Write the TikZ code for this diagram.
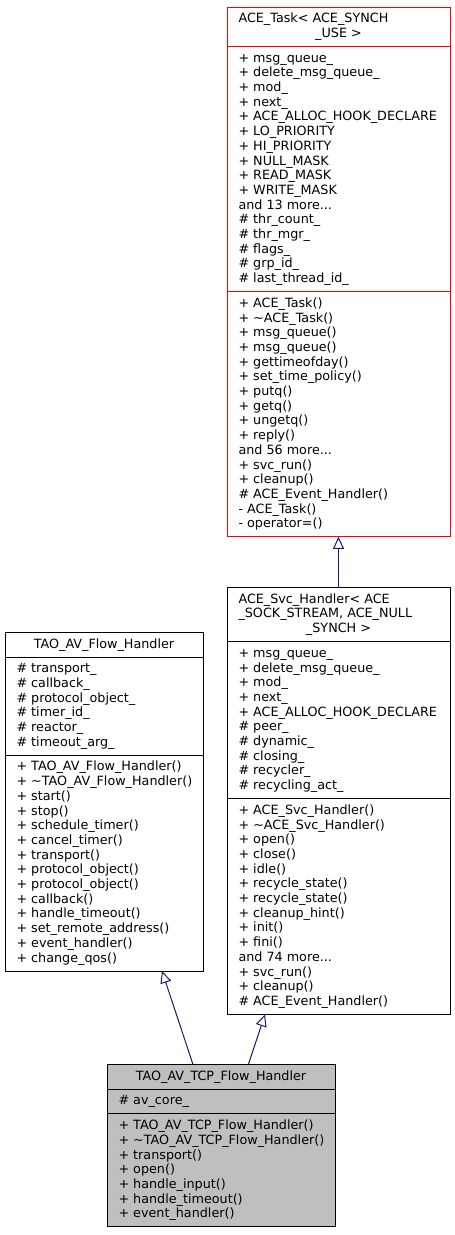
\documentclass[tikz,border=0pt]{standalone}
\usepackage{fontspec}
\setmainfont{DejaVu Sans}
\usetikzlibrary{arrows.meta}
\definecolor{edgeblue}{HTML}{191970}
\definecolor{nodegray}{HTML}{BFBFBF}
\newcommand\tdots{...}
\newcommand\memlist[4]{\foreach \mtxt [count=\mi from 0] in {#4} {\node[txt] (#3\mi) at (#1,{#2+14.7*\mi}) {\mtxt};}}
\begin{document}
\begin{tikzpicture}[x=1pt,y=-1pt,
  box/.style={draw=black, line width=1pt, fill=white, inner sep=0pt, outer sep=0pt, anchor=north west},
  divider/.style={line width=1pt},
  txt/.style={font=\fontsize{12.75}{14.7}\selectfont, inner sep=0pt, outer sep=0pt, anchor=base west},
  ttl/.style={txt, anchor=base},
  inherit/.style={draw=edgeblue, line width=1pt, -{Triangle[open, length=12pt, width=11pt]}}]
\useasboundingbox[fill=white] (0,0) rectangle (455,1235);

% ---------- ACE_Task ----------
\node[box, draw=red, minimum width=223pt, minimum height=529.8pt] (task) at (227,7) {};
\draw[divider, red] (227,46.4) -- (450,46.4);
\draw[divider, red] (227,291.6) -- (450,291.6);
\node[txt] (taskt1) at (238.5,22.7) {ACE\_Task< ACE\_SYNCH};
\node[ttl] (taskt2) at (338.5,37.4) {\_USE >};
\memlist{238.5}{62.1}{taska}{+ msg\_queue\_, + delete\_msg\_queue\_, + mod\_, + next\_, + ACE\_ALLOC\_HOOK\_DECLARE, + LO\_PRIORITY, + HI\_PRIORITY, + NULL\_MASK, + READ\_MASK, + WRITE\_MASK, and 13 more\tdots, \# thr\_count\_, \# thr\_mgr\_, \# flags\_, \# grp\_id\_, \# last\_thread\_id\_}
\memlist{238.5}{307.3}{taskm}{+ ACE\_Task(), + \textasciitilde ACE\_Task(), + msg\_queue(), + msg\_queue(), + gettimeofday(), + set\_time\_policy(), + putq(), + getq(), + ungetq(), + reply(), and 56 more\tdots, + svc\_run(), + cleanup(), \# ACE\_Event\_Handler(), - ACE\_Task(), - operator=()}

% ---------- ACE_Svc_Handler ----------
\node[box, minimum width=223pt, minimum height=426.9pt] (svc) at (227,587.5) {};
\draw[divider] (227,641.6) -- (450,641.6);
\draw[divider] (227,798.6) -- (450,798.6);
\node[txt] (svct1) at (238.5,603.2) {ACE\_Svc\_Handler< ACE};
\node[txt] (svct2) at (238.5,617.9) {\_SOCK\_STREAM, ACE\_NULL};
\node[ttl] (svct3) at (338.5,632.6) {\_SYNCH >};
\memlist{238.5}{657.3}{svca}{+ msg\_queue\_, + delete\_msg\_queue\_, + mod\_, + next\_, + ACE\_ALLOC\_HOOK\_DECLARE, \# peer\_, \# dynamic\_, \# closing\_, \# recycler\_, \# recycling\_act\_}
\memlist{238.5}{814.3}{svcm}{+ ACE\_Svc\_Handler(), + \textasciitilde ACE\_Svc\_Handler(), + open(), + close(), + idle(), + recycle\_state(), + recycle\_state(), + cleanup\_hint(), + init(), + fini(), and 74 more\tdots, + svc\_run(), + cleanup(), \# ACE\_Event\_Handler()}

% ---------- TAO_AV_Flow_Handler ----------
\node[box, minimum width=198pt, minimum height=338.7pt] (flow) at (5,632.3) {};
\draw[divider] (5,657) -- (203,657);
\draw[divider] (5,755.2) -- (203,755.2);
\node[ttl] (flowt) at (104,648) {TAO\_AV\_Flow\_Handler};
\memlist{16.5}{672.7}{flowa}{\# transport\_, \# callback\_, \# protocol\_object\_, \# timer\_id\_, \# reactor\_, \# timeout\_arg\_}
\memlist{16.5}{770.9}{flowm}{+ TAO\_AV\_Flow\_Handler(), + \textasciitilde TAO\_AV\_Flow\_Handler(), + start(), + stop(), + schedule\_timer(), + cancel\_timer(), + transport(), + protocol\_object(), + protocol\_object(), + callback(), + handle\_timeout(), + set\_remote\_address(), + event\_handler(), + change\_qos()}

% ---------- TAO_AV_TCP_Flow_Handler ----------
\node[box, fill=nodegray, minimum width=228pt, minimum height=162.3pt] (tcp) at (107,1064.5) {};
\draw[divider] (107,1089.2) -- (335,1089.2);
\draw[divider] (107,1113.9) -- (335,1113.9);
\node[ttl] (tcpt) at (221,1080.2) {TAO\_AV\_TCP\_Flow\_Handler};
\memlist{118.5}{1104.9}{tcpa}{\# av\_core\_}
\memlist{118.5}{1129.6}{tcpm}{+ TAO\_AV\_TCP\_Flow\_Handler(), + \textasciitilde TAO\_AV\_TCP\_Flow\_Handler(), + transport(), + open(), + handle\_input(), + handle\_timeout(), + event\_handler()}

% ---------- inheritance edges ----------
\coordinate (tcpL) at ([xshift=86pt]tcp.north west);
\coordinate (tcpR) at ([xshift=141.3pt]tcp.north west);
\coordinate (flowB) at ([xshift=157pt]flow.south west);
\coordinate (svcB) at ([xshift=38pt]svc.south west);
\draw[inherit] (svc.north) -- (task.south);
\draw[inherit] (tcpL) -- (flowB);
\draw[inherit] (tcpR) -- (svcB);
\end{tikzpicture}
\end{document}
